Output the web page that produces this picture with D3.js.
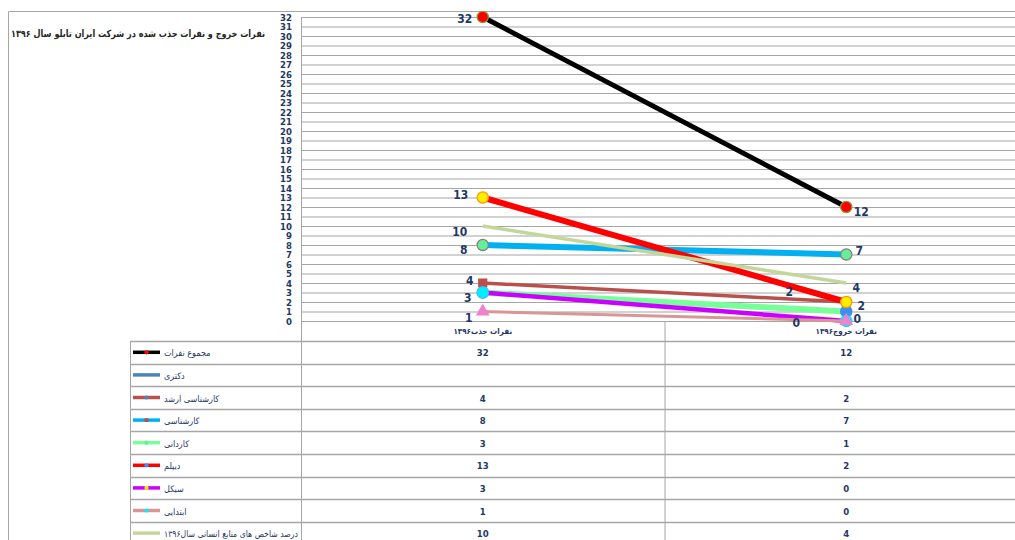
<!DOCTYPE html>
<html>
<head>
<meta charset="utf-8">
<script src="https://cdn.jsdelivr.net/npm/d3@7"></script>
<style>
    body { margin: 0; background: #fff; }
    svg { display: block; }
    .num { font-family: "DejaVu Sans Condensed", "Liberation Sans Narrow", sans-serif; font-weight: bold; fill: #1f3864; }
    .fa { font-family: "DejaVu Sans Condensed", "DejaVu Sans", sans-serif; fill: #1f3864; }
</style>
</head>
<body>
<svg id="chart" width="1015" height="540"></svg>
<script>
    "use strict";
    var title = "نفرات خروج و نفرات جذب شده در شرکت ایران تابلو سال ۱۳۹۶";
    var categories = ["نفرات جذب۱۳۹۶", "نفرات خروج۱۳۹۶"];
    var seriesNames = ["مجموع نفرات", "دکتری", "کارشناسی ارشد", "کارشناسی", "کاردانی",
        "دیپلم", "سیکل", "ابتدایی", "درصد شاخص های منابع انسانی سال۱۳۹۶"];
    var jazbValues = [32, null, 4, 8, 3, 13, 3, 1, 10];
    var khorujValues = [12, null, 2, 7, 1, 2, 0, 0, 4];
    var yTicks = d3.range(0, 33);

    // look of each series, in the same order as seriesNames
    var styles = [
        { color: "#000000", width: 5, marker: "circle", fill: "#ff0000", stroke: "#8a9a3a", lab: [[-18, 2], [15, 5]] },
        { color: "#4f81bd", width: 3, marker: "none", fill: "#4f81bd", stroke: "#4f81bd", lab: [null, null] },
        { color: "#b9504c", width: 3.5, marker: "square", fill: "#b9504c", stroke: "#b9504c", lab: [[-13, -2], [-57, -10]] },
        { color: "#00b0f0", width: 6, marker: "circle", fill: "#66ee99", stroke: "#808080", lab: [[-19, 5], [13, -4]] },
        { color: "#77ff99", width: 6, marker: "circle", fill: "#3d8fef", stroke: "#3d8fef", lab: [null, null] },
        { color: "#ff0000", width: 6, marker: "circle", fill: "#ffee00", stroke: "#ff9900", lab: [[-22, -3], [15, 4]] },
        { color: "#cc00ff", width: 4.5, marker: "circle", fill: "#00eeff", stroke: "#33ccff", lab: [[-15, 5], [11, -2]] },
        { color: "#d99694", width: 3, marker: "triangle", fill: "#ee82cc", stroke: "#ee82cc", lab: [[-14, 6], [-50, 2]] },
        { color: "#c3d69b", width: 3.5, marker: "none", fill: "none", stroke: "none", lab: [[-23, 6], [10, 5]] }
    ];

    var svg = d3.select("#chart");
    var W = 1015;
    var plotLeft = 301, plotTop = 17, plotBottom = 321;
    var tableTop = 341, rowH = 22.6, keyLeft = 130;

    var x = d3.scaleBand().domain(categories).range([plotLeft, 1028]);
    var y = d3.scaleLinear().domain([0, 32]).range([plotBottom, plotTop]);
    var rows = d3.scaleBand().domain(seriesNames).range([tableTop, tableTop + rowH * seriesNames.length]);
    var cx = function (c) { return x(c) + x.bandwidth() / 2; };

    // outer frame
    svg.append("path")
        .attr("d", "M8.5,540 V11.5 H" + W)
        .attr("fill", "none").attr("stroke", "#a6a6a6");

    svg.append("text").attr("class", "fa")
        .attr("x", 11).attr("y", 37)
        .attr("textLength", 254).attr("lengthAdjust", "spacingAndGlyphs")
        .style("font-size", "10px").style("font-weight", "bold").style("fill", "#262626")
        .text(title);

    // gridlines and y axis
    var yAxis = d3.axisLeft(y).tickValues(yTicks).tickSize(-(W - plotLeft)).tickPadding(9);
    var ga = svg.append("g").attr("transform", "translate(" + plotLeft + ",0)").call(yAxis);
    ga.select(".domain").remove();
    ga.selectAll(".tick line").attr("stroke", "#a6a6a6").attr("stroke-width", 1.2);
    ga.selectAll(".tick text").attr("class", "num").style("font-size", "9.5px").attr("dy", "0.36em");

    svg.append("line")
        .attr("x1", plotLeft + 0.5).attr("x2", plotLeft + 0.5)
        .attr("y1", plotTop).attr("y2", 540)
        .attr("stroke", "#a6a6a6");

    // data table grid
    var tg = svg.append("g");
    tg.selectAll("line.h").data(d3.range(seriesNames.length + 1)).enter().append("line")
        .attr("x1", keyLeft).attr("x2", W)
        .attr("y1", function (i) { return Math.round(tableTop + i * rowH) + 0.5; })
        .attr("y2", function (i) { return Math.round(tableTop + i * rowH) + 0.5; })
        .attr("stroke", "#a6a6a6").attr("stroke-width", 1.5);
    tg.append("line").attr("x1", keyLeft + 0.5).attr("x2", keyLeft + 0.5)
        .attr("y1", tableTop).attr("y2", 540).attr("stroke", "#a6a6a6");
    tg.append("line").attr("x1", x(categories[1]) + 0.5).attr("x2", x(categories[1]) + 0.5)
        .attr("y1", plotBottom).attr("y2", 540).attr("stroke", "#a6a6a6");

    svg.selectAll("text.cat").data(categories).enter().append("text")
        .attr("class", "fa")
        .attr("x", cx).attr("y", 334)
        .attr("text-anchor", "middle")
        .style("font-size", "8px").style("font-weight", "bold")
        .text(function (d) { return d; });

    // lines, markers and labels
    var markerPath = function (type) {
        if (type === "square") return d3.symbol(d3.symbolSquare, 64)();
        if (type === "triangle") return d3.symbol(d3.symbolTriangle, 60)();
        return d3.symbol(d3.symbolCircle, 100)();
    };
    var plot = svg.append("g");
    seriesNames.forEach(function (name, i) {
        var st = styles[i];
        var vals = [jazbValues[i], khorujValues[i]];
        if (vals[0] === null) return;
        var pts = categories.map(function (c, j) { return [cx(c), y(vals[j])]; });
        plot.append("path")
            .attr("d", d3.line()(pts))
            .attr("fill", "none")
            .attr("stroke", st.color)
            .attr("stroke-width", st.width);
        if (st.marker !== "none") {
            plot.selectAll(null).data(pts).enter().append("path")
                .attr("transform", function (p) { return "translate(" + p[0] + "," + p[1] + ")"; })
                .attr("d", markerPath(st.marker))
                .attr("fill", st.fill)
                .attr("stroke", st.stroke)
                .attr("stroke-width", 1.2);
        }
    });
    seriesNames.forEach(function (name, i) {
        var st = styles[i];
        var vals = [jazbValues[i], khorujValues[i]];
        categories.forEach(function (c, j) {
            var off = st.lab[j];
            if (!off || vals[j] === null) return;
            svg.append("text").attr("class", "num")
                .attr("x", cx(c) + off[0]).attr("y", y(vals[j]) + off[1])
                .attr("dy", "0.36em")
                .attr("text-anchor", "middle")
                .style("font-size", "12px")
                .text(vals[j]);
        });
    });

    // legend keys and values in table
    var rowMid = function (n) { return rows(n) + rows.bandwidth() / 2; };
    var rg = svg.selectAll("g.row").data(seriesNames).enter().append("g")
        .attr("transform", function (n) { return "translate(0," + rowMid(n) + ")"; });
    rg.append("line")
        .attr("x1", 133).attr("x2", 160).attr("y1", 0).attr("y2", 0)
        .attr("stroke", function (n, i) { return styles[i].color; })
        .attr("stroke-width", 3.5);
    rg.filter(function (n, i) { return styles[i].marker !== "none"; })
        .append("path")
        .attr("transform", "translate(146.5,0)")
        .attr("d", function (n, i) {
            var t = styles[i].marker;
            if (t === "square") return d3.symbol(d3.symbolSquare, 14)();
            if (t === "triangle") return d3.symbol(d3.symbolTriangle, 14)();
            return d3.symbol(d3.symbolCircle, 14)();
        })
        .attr("fill", function (n, i) { return styles[i].fill; });
    rg.append("text").attr("class", "fa")
        .attr("x", 164).attr("y", 4)
        .style("font-size", "9px")
        .text(function (n) { return n; })
        .each(function () {
            if (this.getComputedTextLength() > 134) {
                d3.select(this).attr("textLength", 134).attr("lengthAdjust", "spacingAndGlyphs");
            }
        });
    rg.each(function (n, i) {
        var g = d3.select(this);
        [jazbValues[i], khorujValues[i]].forEach(function (v, j) {
            if (v === null) return;
            g.append("text").attr("class", "num")
                .attr("x", cx(categories[j])).attr("y", 4)
                .attr("text-anchor", "middle")
                .style("font-size", "9.5px")
                .text(v);
        });
    });
</script>
</body>
</html>
